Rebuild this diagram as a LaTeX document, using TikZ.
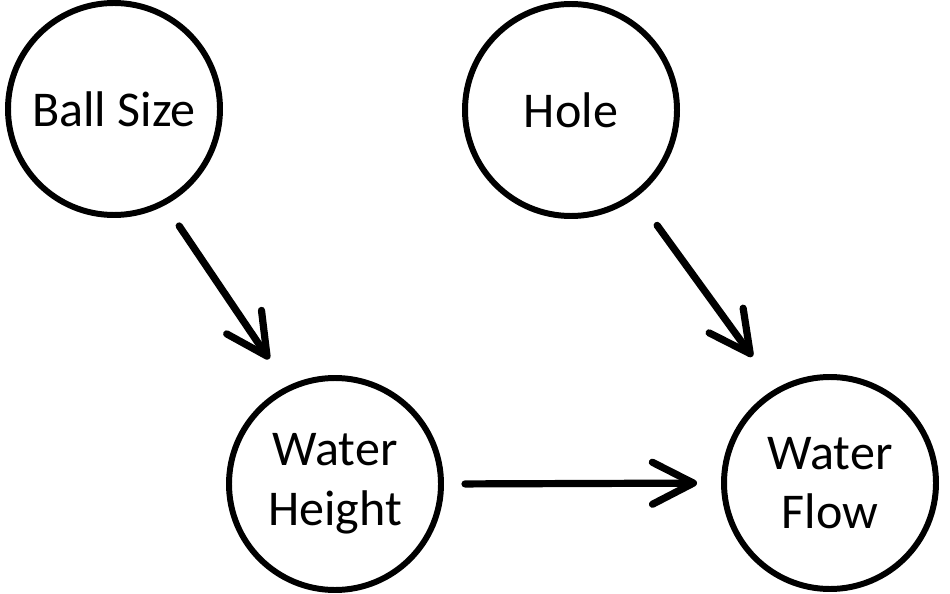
\documentclass[tikz,border=0pt]{standalone}
\usepackage{fontspec}
\setmainfont{Carlito}
\usepackage{tikz}
\usetikzlibrary{arrows.meta}

\begin{document}
\begin{tikzpicture}[
    every node/.style={circle, draw, line width=3.4pt, minimum size=4.24cm, inner sep=0pt,
        align=center, font=\fontsize{28.5}{34}\selectfont},
    arrow/.style={-{Straight Barb[length=0.82cm, width=0.84cm, round]}, line width=4.1pt, line cap=round}
]
\useasboundingbox (0,0) rectangle (19,11.86);
\node (ball) at (2.28,9.68) {Ball Size};
\node (hole) at (11.42,9.66) {Hole};
\node (height) at (6.70,2.18) {Water\\Height};
\node (flow) at (16.60,2.20) {Water\\Flow};
\draw[arrow, shorten <=0.5cm, shorten >=0.65cm] (ball.-62) -- (height.116);
\draw[arrow, shorten <=0.7cm, shorten >=0.79cm] (hole.-53) -- (flow.120);
\draw[arrow, shorten <=0.42cm, shorten >=0.48cm] (height.east) -- (flow.west);
\end{tikzpicture}
\end{document}
